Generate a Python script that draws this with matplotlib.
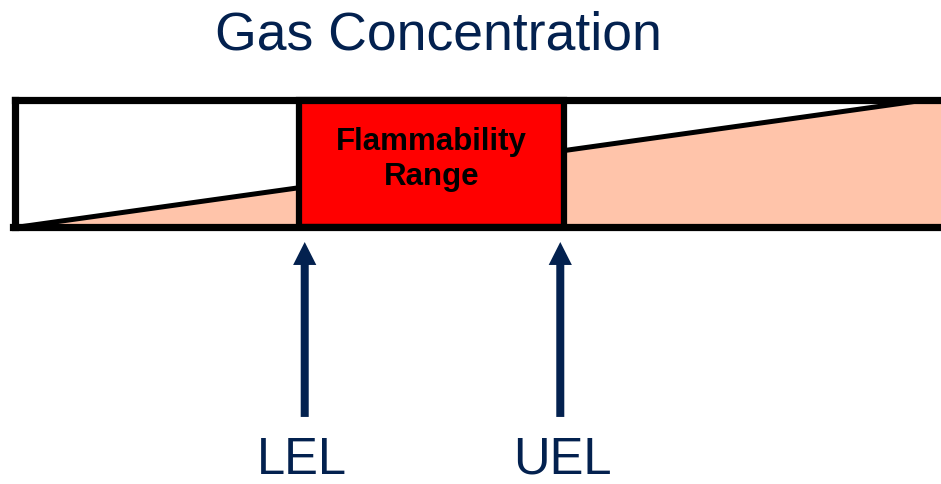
import matplotlib.pyplot as plt
from matplotlib.patches import Rectangle

plt.rcParams['font.family'] = ['Liberation Sans', 'DejaVu Sans']

# gas concentration along the bar (percent of bar length) and ramp level (fraction of bar height)
conc = [0, 100, 110]
level = [0, 1, 1]

# limits
lel = 31.2
uel = 60.3
limit_labels = ["LEL", "UEL"]
label_x = [31.5, 60.1]
arrow_x = [31.8, 59.9]

title = "Gas Concentration"
box_lines = ["Flammability", "Range"]

navy = "#03214F"
salmon = "#FFC4AA"

fig = plt.figure(figsize=(9.41, 4.85), dpi=100)
ax = fig.add_axes([0, 0, 1, 1])
ax.set_xlim(-1.704, 101.76)
ax.set_ylim(-2.012, 1.792)
ax.axis("off")

# rising concentration wedge
ax.fill_between(conc, 0, level, color=salmon, lw=0, zorder=1)
ax.plot(conc[:2], level[:2], color="black", lw=3.6, zorder=2)

# flammability range box
ax.add_patch(Rectangle((lel, 0), uel - lel, 1, facecolor="#FF0000",
                       edgecolor="black", lw=4.5, zorder=3))
for i, line in enumerate(box_lines):
    ax.text((lel + uel) / 2, 0.616 - 0.275 * i, line, ha="center", va="baseline",
            fontsize=22.5, fontweight="bold", zorder=4)

# outer bar
ax.plot([conc[0], conc[-1]], [1, 1], color="black", lw=5.2, zorder=5)
ax.plot([conc[0] - 0.3, conc[-1]], [0, 0], color="black", lw=5.2, zorder=5)
ax.plot([conc[0], conc[0]], [0, 1], color="black", lw=5.2, zorder=5)

# arrows and labels
for x, ax_x, lab in zip(label_x, arrow_x, limit_labels):
    ax.arrow(ax_x, -1.486, 0, 1.372, width=0.88, head_width=2.55,
             head_length=0.18, length_includes_head=True, color=navy, lw=0)
    ax.text(x, -1.925, lab, ha="center", va="baseline", fontsize=36.5, color=navy)

ax.text(46.5, 1.40, title, ha="center", va="baseline", fontsize=38.5, color=navy)

fig.savefig("out.png", dpi=100)
